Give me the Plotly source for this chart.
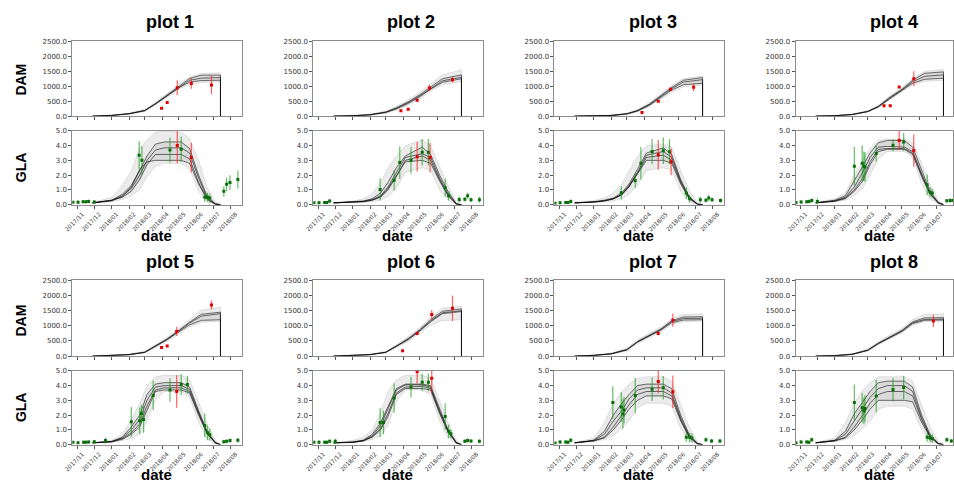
import plotly.graph_objects as go

W, H = 954, 484

# ---------------- axes / ticks ----------------
X_RANGE = ["2017-10-23", "2018-08-21"]
X_RANGE_CLIP = ["2017-10-23", "2018-07-31"]   # right column is cut by the image edge
TICK_DATES = ["2017-11-01", "2017-12-01", "2018-01-01", "2018-02-01", "2018-03-01",
              "2018-04-01", "2018-05-01", "2018-06-01", "2018-07-01", "2018-08-01"]
TICK_TEXT = ["2017/11", "2017/12", "2018/01", "2018/02", "2018/03",
             "2018/04", "2018/05", "2018/06", "2018/07", "2018/08"]
DAM_TICKS = [0, 500, 1000, 1500, 2000, 2500]
GLA_TICKS = [0, 1, 2, 3, 4, 5]

# ---------------- ensemble knot dates ----------------
DAM_KNOTS = ["2017-11-28", "2018-01-01", "2018-02-01", "2018-03-01", "2018-03-20", "2018-04-10",
             "2018-05-01", "2018-05-20", "2018-06-10", "2018-07-14", "2018-07-14"]
GLA_KNOTS = ["2017-11-28", "2018-01-01", "2018-01-20", "2018-02-05", "2018-02-20", "2018-03-05",
             "2018-03-20", "2018-04-05", "2018-05-05", "2018-05-20", "2018-06-05", "2018-06-20",
             "2018-07-05", "2018-07-14"]

# ---------------- plot 1 ----------------
DAM1_A = [0, 25, 80, 190, 420, 710, 1000, 1260, 1370, 1370, 0]
DAM1_B = [0, 25, 80, 185, 410, 690, 970, 1200, 1270, 1290, 0]
DAM1_C = [0, 22, 78, 180, 400, 680, 950, 1140, 1190, 1200, 0]
DAM1_LO = [0, 15, 60, 150, 360, 630, 900, 1070, 1120, 1140, 0]
DAM1_HI = [0, 35, 100, 230, 470, 760, 1050, 1320, 1430, 1450, 0]
GLA1_A = [0.12, 0.3, 0.7, 1.3, 2.3, 3.3, 4.1, 4.25, 4.25, 3.8, 2.0, 0.6, 0.05, 0]
GLA1_B = [0.12, 0.28, 0.6, 1.1, 2.0, 3.0, 3.7, 3.85, 3.85, 3.5, 1.8, 0.5, 0.04, 0]
GLA1_C = [0.12, 0.3, 0.5, 0.9, 1.7, 2.7, 3.4, 3.4, 3.4, 3.1, 1.5, 0.4, 0.03, 0]
GLA1_D = [0.12, 0.25, 0.55, 1.2, 2.4, 2.9, 3.0, 3.0, 3.0, 2.8, 1.4, 0.35, 0.02, 0]
GLA1_LO = [0.1, 0.2, 0.35, 0.6, 1.0, 1.9, 2.6, 2.8, 2.8, 2.4, 0.9, 0.2, 0.01, 0]
GLA1_HI = [0.14, 0.5, 1.3, 2.3, 3.8, 4.4, 4.9, 5.0, 4.9, 4.5, 3.0, 1.2, 0.2, 0]
OBS1_DAM_D = ["2018-03-31", "2018-04-10", "2018-04-28", "2018-05-23", "2018-06-28"]
OBS1_DAM_V = [265, 453, 951, 1095, 1040]
OBS1_DAM_E = [25, 40, 250, 180, 310]
OBS1_GLA_D = ["2017-10-24", "2017-11-02", "2017-11-11", "2017-11-16", "2017-11-21", "2017-12-01",
              "2018-02-19", "2018-02-24", "2018-04-15", "2018-05-05", "2018-06-16", "2018-06-21",
              "2018-06-25", "2018-07-20", "2018-07-25", "2018-07-31", "2018-08-14"]
OBS1_GLA_V = [0.16, 0.16, 0.2, 0.2, 0.22, 0.18, 3.35, 3.0, 3.7, 3.75, 0.5, 0.5, 0.45, 0.9, 1.38, 1.5, 1.7]
OBS1_GLA_E = [0.1, 0.12, 0.1, 0.1, 0.12, 0.12, 0.95, 0.95, 0.85, 0.85, 0.3, 0.3, 0.3, 0.35, 0.45, 0.5, 0.6]
OBS1_GLR_D = ["2018-04-28", "2018-05-23"]
OBS1_GLR_V = [4.0, 3.2]
OBS1_GLR_E = [1.2, 1.0]

# ---------------- plot 2 ----------------
DAM2_A = [0, 10, 50, 140, 280, 480, 720, 980, 1250, 1380, 0]
DAM2_B = [0, 10, 45, 130, 260, 450, 680, 930, 1180, 1300, 0]
DAM2_C = [0, 8, 40, 120, 240, 420, 650, 900, 1130, 1250, 0]
DAM2_LO = [0, 5, 30, 90, 200, 360, 580, 830, 1050, 1150, 0]
DAM2_HI = [0, 15, 65, 170, 330, 550, 800, 1080, 1380, 1550, 0]
GLA2_A = [0.12, 0.18, 0.25, 0.4, 0.8, 1.5, 2.5, 3.3, 3.9, 3.4, 2.0, 0.9, 0.05, 0]
GLA2_B = [0.12, 0.16, 0.22, 0.35, 0.6, 1.2, 2.2, 3.2, 3.45, 3.2, 1.8, 0.75, 0.04, 0]
GLA2_C = [0.12, 0.15, 0.2, 0.3, 0.5, 1.0, 1.9, 3.0, 3.3, 3.0, 1.7, 0.65, 0.03, 0]
GLA2_D = [0.12, 0.15, 0.2, 0.3, 0.55, 1.1, 2.0, 2.9, 3.0, 2.8, 1.6, 0.6, 0.03, 0]
GLA2_LO = [0.1, 0.12, 0.15, 0.2, 0.3, 0.55, 1.1, 2.2, 2.5, 2.3, 1.0, 0.3, 0.01, 0]
GLA2_HI = [0.14, 0.25, 0.4, 0.75, 1.5, 2.5, 3.3, 4.0, 4.4, 4.0, 2.6, 1.3, 0.15, 0]
OBS2_DAM_D = ["2018-03-28", "2018-04-10", "2018-04-26", "2018-05-18", "2018-06-28"]
OBS2_DAM_V = [177, 232, 531, 940, 1217]
OBS2_DAM_E = [20, 25, 30, 110, 90]
OBS2_GLA_D = ["2017-10-24", "2017-11-02", "2017-11-12", "2017-11-16", "2017-11-21", "2018-02-19",
              "2018-03-16", "2018-03-26", "2018-04-15", "2018-05-05", "2018-05-16", "2018-06-15",
              "2018-06-21", "2018-07-10", "2018-07-20", "2018-07-25", "2018-07-31", "2018-08-15"]
OBS2_GLA_V = [0.13, 0.13, 0.15, 0.15, 0.24, 1.03, 1.65, 2.85, 3.0, 3.55, 3.55, 1.15, 0.6, 0.35, 0.37, 0.6, 0.33, 0.33]
OBS2_GLA_E = [0.08, 0.1, 0.1, 0.1, 0.12, 0.75, 0.7, 1.1, 0.9, 0.9, 0.9, 0.6, 0.3, 0.2, 0.15, 0.2, 0.15, 0.2]
OBS2_GLR_D = ["2018-04-26", "2018-05-19"]
OBS2_GLR_V = [3.25, 3.2]
OBS2_GLR_E = [1.0, 1.0]

# ---------------- plot 3 ----------------
DAM3_A = [0, 5, 25, 80, 190, 400, 680, 960, 1200, 1290, 0]
DAM3_B = [0, 5, 22, 75, 180, 380, 650, 920, 1140, 1220, 0]
DAM3_C = [0, 4, 20, 70, 170, 360, 620, 870, 1050, 1100, 0]
DAM3_LO = [0, 2, 15, 55, 140, 320, 570, 800, 980, 1040, 0]
DAM3_HI = [0, 8, 35, 100, 230, 450, 740, 1030, 1260, 1340, 0]
GLA3_A = [0.12, 0.2, 0.3, 0.45, 0.8, 1.4, 2.4, 3.5, 3.85, 3.4, 1.7, 0.55, 0.04, 0]
GLA3_B = [0.12, 0.18, 0.27, 0.4, 0.7, 1.3, 2.2, 3.35, 3.6, 3.2, 1.6, 0.5, 0.03, 0]
GLA3_C = [0.12, 0.17, 0.25, 0.38, 0.65, 1.2, 2.1, 3.2, 3.35, 3.0, 1.5, 0.45, 0.03, 0]
GLA3_D = [0.12, 0.17, 0.25, 0.4, 0.7, 1.25, 2.1, 3.0, 3.0, 2.8, 1.4, 0.4, 0.02, 0]
GLA3_LO = [0.1, 0.13, 0.18, 0.25, 0.4, 0.7, 1.3, 2.3, 2.5, 2.3, 0.9, 0.2, 0.01, 0]
GLA3_HI = [0.14, 0.28, 0.45, 0.8, 1.4, 2.3, 3.3, 4.0, 4.1, 3.9, 2.3, 1.0, 0.12, 0]
OBS3_DAM_D = ["2018-03-28", "2018-04-26", "2018-05-18", "2018-06-28"]
OBS3_DAM_V = [122, 498, 896, 962]
OBS3_DAM_E = [20, 30, 60, 130]
OBS3_GLA_D = ["2017-10-24", "2017-11-02", "2017-11-12", "2017-11-16", "2017-11-21", "2018-02-19",
              "2018-03-16", "2018-03-26", "2018-04-15", "2018-05-05", "2018-05-16", "2018-06-15",
              "2018-06-21", "2018-07-10", "2018-07-20", "2018-07-25", "2018-07-31", "2018-08-15"]
OBS3_GLA_V = [0.1, 0.13, 0.15, 0.15, 0.22, 0.8, 1.62, 2.8, 3.6, 3.65, 3.58, 0.78, 0.4, 0.33, 0.3, 0.45, 0.33, 0.28]
OBS3_GLA_E = [0.08, 0.1, 0.1, 0.1, 0.15, 0.45, 0.5, 1.1, 0.85, 0.9, 0.85, 0.4, 0.25, 0.2, 0.15, 0.2, 0.15, 0.15]
OBS3_GLR_D = ["2018-04-26", "2018-05-19"]
OBS3_GLR_V = [3.38, 2.9]
OBS3_GLR_E = [1.0, 0.9]

# ---------------- plot 4 ----------------
DAM4_A = [0, 15, 55, 160, 330, 640, 900, 1200, 1430, 1480, 0]
DAM4_B = [0, 15, 55, 155, 320, 620, 880, 1150, 1330, 1380, 0]
DAM4_C = [0, 12, 50, 150, 310, 600, 860, 1100, 1230, 1270, 0]
DAM4_LO = [0, 8, 40, 130, 280, 560, 820, 1040, 1160, 1200, 0]
DAM4_HI = [0, 20, 70, 185, 370, 690, 960, 1260, 1500, 1560, 0]
GLA4_A = [0.12, 0.3, 0.6, 1.6, 2.6, 3.5, 4.2, 4.35, 4.35, 3.9, 2.3, 0.9, 0.15, 0]
GLA4_B = [0.12, 0.25, 0.5, 1.2, 2.2, 3.2, 3.9, 3.95, 3.9, 3.6, 2.1, 0.8, 0.12, 0]
GLA4_C = [0.12, 0.25, 0.45, 1.0, 1.8, 2.9, 3.75, 3.8, 3.8, 3.5, 2.0, 0.75, 0.1, 0]
GLA4_D = [0.12, 0.22, 0.4, 0.9, 1.6, 2.7, 3.6, 3.75, 3.75, 3.4, 1.9, 0.7, 0.1, 0]
GLA4_LO = [0.1, 0.18, 0.3, 0.6, 1.1, 2.0, 3.1, 3.6, 3.6, 3.2, 1.4, 0.4, 0.03, 0]
GLA4_HI = [0.14, 0.4, 0.8, 2.0, 3.0, 3.8, 4.35, 4.45, 4.45, 4.2, 2.8, 1.4, 0.3, 0]
OBS4_DAM_D = ["2018-03-30", "2018-04-10", "2018-04-26", "2018-05-22"]
OBS4_DAM_V = [343, 343, 973, 1250]
OBS4_DAM_E = [40, 40, 30, 250]
OBS4_GLA_D = ["2017-10-24", "2017-11-02", "2017-11-12", "2017-11-16", "2017-11-21", "2017-12-01",
              "2018-02-05", "2018-02-19", "2018-02-22", "2018-02-24", "2018-03-16", "2018-04-15",
              "2018-05-04", "2018-06-15", "2018-06-20", "2018-06-24", "2018-07-20", "2018-07-26", "2018-07-31"]
OBS4_GLA_V = [0.15, 0.18, 0.2, 0.22, 0.28, 0.22, 2.6, 2.8, 2.6, 2.55, 3.47, 4.02, 4.25, 1.35, 0.85, 0.78, 0.27, 0.28, 0.28]
OBS4_GLA_E = [0.08, 0.12, 0.1, 0.12, 0.15, 0.2, 1.3, 1.2, 1.0, 1.0, 0.55, 0.4, 0.6, 0.7, 0.35, 0.3, 0.12, 0.15, 0.12]
OBS4_GLR_D = ["2018-04-26", "2018-05-22"]
OBS4_GLR_V = [4.35, 3.67]
OBS4_GLR_E = [0.65, 1.1]

# ---------------- plot 5 ----------------
DAM5_A = [0, 15, 50, 130, 330, 570, 850, 1120, 1380, 1450, 0]
DAM5_B = [0, 15, 50, 125, 320, 555, 830, 1090, 1320, 1400, 0]
DAM5_C = [0, 12, 45, 120, 310, 540, 800, 1030, 1180, 1200, 0]
DAM5_LO = [0, 8, 35, 100, 270, 490, 750, 960, 1110, 1150, 0]
DAM5_HI = [0, 20, 65, 160, 380, 620, 920, 1220, 1520, 1620, 0]
GLA5_A = [0.12, 0.22, 0.5, 1.2, 2.0, 3.4, 4.1, 4.2, 4.2, 3.9, 2.3, 0.9, 0.15, 0]
GLA5_B = [0.12, 0.2, 0.45, 1.0, 1.7, 3.0, 3.9, 4.0, 4.0, 3.75, 2.2, 0.85, 0.12, 0]
GLA5_C = [0.12, 0.2, 0.4, 0.8, 1.4, 2.6, 3.7, 3.85, 3.85, 3.6, 2.1, 0.8, 0.1, 0]
GLA5_D = [0.12, 0.18, 0.35, 0.7, 1.2, 2.3, 3.6, 3.7, 3.7, 3.5, 2.0, 0.75, 0.1, 0]
GLA5_LO = [0.1, 0.15, 0.28, 0.4, 0.7, 1.6, 3.0, 3.6, 3.6, 3.2, 1.5, 0.4, 0.03, 0]
GLA5_HI = [0.14, 0.3, 0.7, 1.7, 2.8, 4.0, 4.6, 4.7, 4.7, 4.4, 2.9, 1.4, 0.3, 0]
OBS5_DAM_D = ["2018-03-31", "2018-04-10", "2018-04-27", "2018-06-28"]
OBS5_DAM_V = [283, 337, 815, 1685]
OBS5_DAM_E = [25, 40, 150, 150]
OBS5_GLA_D = ["2017-10-24", "2017-11-02", "2017-11-12", "2017-11-16", "2017-11-21", "2017-12-01",
              "2017-12-21", "2018-02-05", "2018-02-20", "2018-02-23", "2018-02-27", "2018-03-16",
              "2018-04-15", "2018-05-05", "2018-05-16", "2018-06-16", "2018-06-21", "2018-06-25",
              "2018-07-20", "2018-07-25", "2018-07-31", "2018-08-14"]
OBS5_GLA_V = [0.16, 0.13, 0.16, 0.16, 0.18, 0.2, 0.27, 1.55, 1.62, 2.1, 1.7, 3.33,
              3.7, 4.07, 4.07, 1.3, 0.8, 0.67, 0.2, 0.22, 0.27, 0.3]
OBS5_GLA_E = [0.08, 0.1, 0.1, 0.1, 0.1, 0.12, 0.2, 1.0, 0.9, 0.6, 0.9, 1.0,
              0.8, 0.7, 0.6, 0.8, 0.5, 0.4, 0.12, 0.12, 0.15, 0.15]
OBS5_GLR_D = ["2018-04-27"]
OBS5_GLR_V = [3.6]
OBS5_GLR_E = [1.1]

# ---------------- plot 6 ----------------
DAM6_A = [0, 15, 50, 130, 330, 580, 880, 1200, 1480, 1560, 0]
DAM6_B = [0, 15, 50, 125, 320, 560, 850, 1160, 1430, 1500, 0]
DAM6_C = [0, 12, 45, 120, 310, 540, 830, 1130, 1400, 1470, 0]
DAM6_LO = [0, 8, 35, 100, 270, 480, 760, 1020, 1170, 1200, 0]
DAM6_HI = [0, 20, 65, 160, 380, 640, 950, 1290, 1580, 1650, 0]
GLA6_A = [0.12, 0.18, 0.3, 0.7, 1.5, 2.6, 3.8, 4.1, 4.1, 4.0, 2.4, 1.0, 0.15, 0]
GLA6_B = [0.12, 0.16, 0.28, 0.6, 1.3, 2.4, 3.7, 4.05, 4.05, 3.9, 2.3, 0.95, 0.12, 0]
GLA6_C = [0.12, 0.16, 0.25, 0.55, 1.1, 2.1, 3.5, 3.9, 3.95, 3.8, 2.2, 0.9, 0.1, 0]
GLA6_D = [0.12, 0.15, 0.25, 0.5, 1.0, 1.9, 3.4, 3.8, 3.8, 3.7, 2.1, 0.85, 0.1, 0]
GLA6_LO = [0.1, 0.12, 0.2, 0.35, 0.6, 1.3, 2.9, 3.7, 3.7, 3.4, 1.6, 0.45, 0.03, 0]
GLA6_HI = [0.14, 0.28, 0.5, 1.0, 2.2, 3.6, 4.4, 4.7, 4.7, 4.5, 3.0, 1.5, 0.3, 0]
OBS6_DAM_D = ["2018-03-31", "2018-04-26", "2018-05-22", "2018-06-28"]
OBS6_DAM_V = [175, 746, 1370, 1580]
OBS6_DAM_E = [20, 50, 150, 420]
OBS6_GLA_D = ["2017-10-24", "2017-11-02", "2017-11-12", "2017-11-16", "2017-11-21", "2017-12-01",
              "2018-02-19", "2018-02-25", "2018-03-16", "2018-04-15", "2018-05-05", "2018-05-16",
              "2018-06-15", "2018-06-21", "2018-06-25", "2018-07-20", "2018-07-25", "2018-07-31", "2018-08-15"]
OBS6_GLA_V = [0.16, 0.16, 0.16, 0.16, 0.22, 0.22, 1.5, 1.5, 3.15, 3.9, 4.22, 4.22, 1.9, 0.9, 0.73, 0.22, 0.27, 0.25, 0.22]
OBS6_GLA_E = [0.1, 0.12, 0.1, 0.1, 0.12, 0.18, 1.0, 0.8, 1.0, 0.7, 0.6, 0.6, 0.9, 0.45, 0.3, 0.12, 0.15, 0.12, 0.12]
OBS6_GLR_D = ["2018-04-26", "2018-05-22"]
OBS6_GLR_V = [4.93, 4.5]
OBS6_GLR_E = [0.8, 1.0]

# ---------------- plot 7 ----------------
DAM7_A = [0, 25, 80, 220, 480, 690, 900, 1170, 1290, 1300, 0]
DAM7_B = [0, 25, 75, 210, 470, 680, 880, 1140, 1240, 1250, 0]
DAM7_C = [0, 22, 70, 200, 460, 660, 860, 1100, 1190, 1200, 0]
DAM7_LO = [0, 15, 55, 170, 410, 610, 800, 1040, 1130, 1150, 0]
DAM7_HI = [0, 35, 95, 270, 540, 760, 970, 1230, 1370, 1400, 0]
GLA7_A = [0.12, 0.3, 0.9, 2.0, 2.8, 3.4, 4.0, 4.1, 4.1, 3.8, 2.0, 0.7, 0.08, 0]
GLA7_B = [0.12, 0.28, 0.7, 1.6, 2.3, 3.1, 3.7, 3.85, 3.85, 3.5, 1.8, 0.6, 0.06, 0]
GLA7_C = [0.12, 0.25, 0.5, 1.2, 2.0, 2.7, 3.4, 3.6, 3.6, 3.3, 1.7, 0.55, 0.05, 0]
GLA7_D = [0.12, 0.25, 0.45, 1.0, 1.7, 2.4, 3.0, 3.3, 3.3, 3.1, 1.6, 0.5, 0.04, 0]
GLA7_LO = [0.1, 0.2, 0.35, 0.6, 1.1, 1.6, 2.5, 2.8, 2.8, 2.6, 1.1, 0.25, 0.01, 0]
GLA7_HI = [0.14, 0.45, 1.5, 2.8, 3.6, 4.1, 4.5, 4.6, 4.6, 4.3, 2.7, 1.2, 0.2, 0]
OBS7_DAM_D = ["2018-04-26", "2018-05-22"]
OBS7_DAM_V = [746, 1185]
OBS7_DAM_E = [60, 220]
OBS7_GLA_D = ["2017-10-24", "2017-11-02", "2017-11-12", "2017-11-16", "2017-11-21", "2018-02-04",
              "2018-02-19", "2018-02-22", "2018-02-24", "2018-03-16", "2018-04-15", "2018-05-05",
              "2018-06-15", "2018-06-21", "2018-06-25", "2018-07-20", "2018-07-30", "2018-08-14"]
OBS7_GLA_V = [0.1, 0.18, 0.18, 0.16, 0.3, 2.85, 2.55, 2.07, 2.35, 3.33, 3.75, 3.85, 0.5, 0.5, 0.45, 0.33, 0.25, 0.25]
OBS7_GLA_E = [0.08, 0.12, 0.1, 0.1, 0.15, 1.1, 1.0, 1.0, 0.9, 1.2, 0.8, 0.8, 0.3, 0.3, 0.3, 0.15, 0.15, 0.15]
OBS7_GLR_D = ["2018-04-26", "2018-05-22"]
OBS7_GLR_V = [4.28, 3.58]
OBS7_GLR_E = [0.8, 1.1]

# ---------------- plot 8 ----------------
DAM8_A = [0, 15, 60, 200, 430, 640, 850, 1130, 1260, 1270, 0]
DAM8_B = [0, 15, 60, 195, 420, 630, 830, 1100, 1210, 1220, 0]
DAM8_C = [0, 12, 55, 185, 410, 610, 810, 1070, 1180, 1190, 0]
DAM8_LO = [0, 8, 45, 160, 370, 570, 770, 1020, 1130, 1150, 0]
DAM8_HI = [0, 25, 80, 240, 480, 700, 920, 1210, 1370, 1400, 0]
GLA8_A = [0.12, 0.3, 0.9, 2.1, 2.9, 3.6, 4.2, 4.3, 4.3, 3.9, 2.0, 0.7, 0.08, 0]
GLA8_B = [0.12, 0.28, 0.7, 1.6, 2.4, 3.2, 3.8, 4.0, 4.0, 3.6, 1.8, 0.6, 0.06, 0]
GLA8_C = [0.12, 0.25, 0.5, 1.2, 2.0, 2.8, 3.4, 3.6, 3.6, 3.3, 1.7, 0.55, 0.05, 0]
GLA8_D = [0.12, 0.25, 0.45, 1.0, 1.7, 2.4, 3.0, 3.0, 3.0, 2.9, 1.5, 0.5, 0.04, 0]
GLA8_LO = [0.1, 0.2, 0.35, 0.6, 1.1, 1.6, 2.4, 2.6, 2.6, 2.4, 1.0, 0.25, 0.01, 0]
GLA8_HI = [0.14, 0.45, 1.5, 2.8, 3.7, 4.2, 4.6, 4.6, 4.6, 4.3, 2.7, 1.2, 0.2, 0]
OBS8_DAM_D = ["2018-06-26"]
OBS8_DAM_V = [1162]
OBS8_DAM_E = [200]
OBS8_GLA_D = ["2017-10-24", "2017-11-02", "2017-11-12", "2017-11-16", "2017-11-21", "2018-02-05",
              "2018-02-19", "2018-02-22", "2018-02-24", "2018-03-16", "2018-04-15", "2018-05-04",
              "2018-06-15", "2018-06-20", "2018-06-24", "2018-07-20", "2018-07-28"]
OBS8_GLA_V = [0.1, 0.18, 0.18, 0.16, 0.33, 2.85, 2.5, 2.3, 2.45, 3.3, 3.73, 3.87, 0.5, 0.45, 0.4, 0.33, 0.25]
OBS8_GLA_E = [0.08, 0.12, 0.1, 0.1, 0.15, 1.2, 1.0, 0.9, 0.9, 1.1, 0.8, 0.8, 0.3, 0.3, 0.3, 0.15, 0.15]
OBS8_GLR_D = []
OBS8_GLR_V = []
OBS8_GLR_E = []

PLOTS = [
    dict(title="plot 1", dam=[DAM1_A, DAM1_B, DAM1_C], dlo=DAM1_LO, dhi=DAM1_HI,
         gla=[GLA1_A, GLA1_B, GLA1_C, GLA1_D], glo=GLA1_LO, ghi=GLA1_HI,
         od=(OBS1_DAM_D, OBS1_DAM_V, OBS1_DAM_E), og=(OBS1_GLA_D, OBS1_GLA_V, OBS1_GLA_E),
         orr=(OBS1_GLR_D, OBS1_GLR_V, OBS1_GLR_E)),
    dict(title="plot 2", dam=[DAM2_A, DAM2_B, DAM2_C], dlo=DAM2_LO, dhi=DAM2_HI,
         gla=[GLA2_A, GLA2_B, GLA2_C, GLA2_D], glo=GLA2_LO, ghi=GLA2_HI,
         od=(OBS2_DAM_D, OBS2_DAM_V, OBS2_DAM_E), og=(OBS2_GLA_D, OBS2_GLA_V, OBS2_GLA_E),
         orr=(OBS2_GLR_D, OBS2_GLR_V, OBS2_GLR_E)),
    dict(title="plot 3", dam=[DAM3_A, DAM3_B, DAM3_C], dlo=DAM3_LO, dhi=DAM3_HI,
         gla=[GLA3_A, GLA3_B, GLA3_C, GLA3_D], glo=GLA3_LO, ghi=GLA3_HI,
         od=(OBS3_DAM_D, OBS3_DAM_V, OBS3_DAM_E), og=(OBS3_GLA_D, OBS3_GLA_V, OBS3_GLA_E),
         orr=(OBS3_GLR_D, OBS3_GLR_V, OBS3_GLR_E)),
    dict(title="plot 4", dam=[DAM4_A, DAM4_B, DAM4_C], dlo=DAM4_LO, dhi=DAM4_HI,
         gla=[GLA4_A, GLA4_B, GLA4_C, GLA4_D], glo=GLA4_LO, ghi=GLA4_HI,
         od=(OBS4_DAM_D, OBS4_DAM_V, OBS4_DAM_E), og=(OBS4_GLA_D, OBS4_GLA_V, OBS4_GLA_E),
         orr=(OBS4_GLR_D, OBS4_GLR_V, OBS4_GLR_E)),
    dict(title="plot 5", dam=[DAM5_A, DAM5_B, DAM5_C], dlo=DAM5_LO, dhi=DAM5_HI,
         gla=[GLA5_A, GLA5_B, GLA5_C, GLA5_D], glo=GLA5_LO, ghi=GLA5_HI,
         od=(OBS5_DAM_D, OBS5_DAM_V, OBS5_DAM_E), og=(OBS5_GLA_D, OBS5_GLA_V, OBS5_GLA_E),
         orr=(OBS5_GLR_D, OBS5_GLR_V, OBS5_GLR_E)),
    dict(title="plot 6", dam=[DAM6_A, DAM6_B, DAM6_C], dlo=DAM6_LO, dhi=DAM6_HI,
         gla=[GLA6_A, GLA6_B, GLA6_C, GLA6_D], glo=GLA6_LO, ghi=GLA6_HI,
         od=(OBS6_DAM_D, OBS6_DAM_V, OBS6_DAM_E), og=(OBS6_GLA_D, OBS6_GLA_V, OBS6_GLA_E),
         orr=(OBS6_GLR_D, OBS6_GLR_V, OBS6_GLR_E)),
    dict(title="plot 7", dam=[DAM7_A, DAM7_B, DAM7_C], dlo=DAM7_LO, dhi=DAM7_HI,
         gla=[GLA7_A, GLA7_B, GLA7_C, GLA7_D], glo=GLA7_LO, ghi=GLA7_HI,
         od=(OBS7_DAM_D, OBS7_DAM_V, OBS7_DAM_E), og=(OBS7_GLA_D, OBS7_GLA_V, OBS7_GLA_E),
         orr=(OBS7_GLR_D, OBS7_GLR_V, OBS7_GLR_E)),
    dict(title="plot 8", dam=[DAM8_A, DAM8_B, DAM8_C], dlo=DAM8_LO, dhi=DAM8_HI,
         gla=[GLA8_A, GLA8_B, GLA8_C, GLA8_D], glo=GLA8_LO, ghi=GLA8_HI,
         od=(OBS8_DAM_D, OBS8_DAM_V, OBS8_DAM_E), og=(OBS8_GLA_D, OBS8_GLA_V, OBS8_GLA_E),
         orr=(OBS8_GLR_D, OBS8_GLR_V, OBS8_GLR_E)),
]

# ---------------- layout geometry (pixels) ----------------
COL_LEFT = [65, 308.3, 551.7, 795]
AX_W = 171
ROW_DAM = [(38, 114), (281, 358)]
ROW_GLA = [(129, 204), (373, 448)]
TITLE_Y = [18, 262]
DATE_Y = [235, 478]
LABEL_X = 13
LABEL_DAM_Y = [77, 322]
LABEL_GLA_Y = [166, 410]

BAND = "rgba(0,0,0,0.08)"
CORE = "rgba(0,0,0,0.07)"
MEMBER = "rgba(0,0,0,0.62)"
EDGE = "rgba(0,0,0,0.16)"
GREEN_BAR = "rgba(20,150,20,0.65)"
GREEN_PT = "#0a6e0a"
RED_BAR = "rgba(255,30,30,0.7)"
RED_PT = "#e00000"

fig = go.Figure()
layout = dict(width=W, height=H, margin=dict(l=0, r=0, t=0, b=0),
              paper_bgcolor="white", plot_bgcolor="white", showlegend=False)
annotations = []


def sfx(n):
    return "" if n == 1 else str(n)


def add_band(xs, lo, hi, xa, ya):
    fig.add_trace(go.Scatter(x=xs, y=lo, mode="lines", line=dict(color=EDGE, width=0.6),
                             xaxis=xa, yaxis=ya, hoverinfo="skip"))
    fig.add_trace(go.Scatter(x=xs, y=hi, mode="lines", line=dict(color=EDGE, width=0.6),
                             fill="tonexty", fillcolor=BAND, xaxis=xa, yaxis=ya, hoverinfo="skip"))


def add_members(xs, members, xa, ya):
    for k, m in enumerate(members):
        fig.add_trace(go.Scatter(x=xs, y=m, mode="lines", line=dict(color=MEMBER, width=0.9),
                                 fill=None if k == 0 else "tonexty", fillcolor=CORE,
                                 xaxis=xa, yaxis=ya, hoverinfo="skip"))


def add_obs(obs, bar, pt, xa, ya):
    d, v, e = obs
    if not d:
        return
    fig.add_trace(go.Scatter(x=d, y=v, mode="markers",
                             marker=dict(symbol="square", size=3, color=pt),
                             error_y=dict(type="data", array=e, color=bar, thickness=1.2, width=0),
                             xaxis=xa, yaxis=ya))


for i, P in enumerate(PLOTS):
    r, c = divmod(i, 4)
    nd, ng = 2 * i + 1, 2 * i + 2
    left = COL_LEFT[c]
    right = min(left + AX_W, W)
    xr = X_RANGE if left + AX_W <= W else X_RANGE_CLIP
    xdom = [left / W, right / W]

    for n, (top, bot), is_gla in ((nd, ROW_DAM[r], False), (ng, ROW_GLA[r], True)):
        layout["xaxis" + sfx(n)] = dict(
            domain=xdom, range=xr, type="date", anchor="y" + sfx(n),
            tickmode="array", tickvals=TICK_DATES, ticktext=TICK_TEXT,
            showticklabels=is_gla, tickangle=-45, ticklabelshift=5,
            tickfont=dict(family="DejaVu Sans", size=5.8, color="#333"),
            ticks="outside", ticklen=3, tickcolor="#555", tickwidth=0.8,
            showline=True, linecolor="#8c8c8c", linewidth=1, mirror=True,
            showgrid=False, zeroline=False)
        layout["yaxis" + sfx(n)] = dict(
            domain=[1 - bot / H, 1 - top / H], anchor="x" + sfx(n),
            range=[0, 5] if is_gla else [0, 2500],
            tickmode="array", tickvals=GLA_TICKS if is_gla else DAM_TICKS, tickformat=".1f",
            tickfont=dict(family="DejaVu Sans", size=7, color="#333"),
            ticks="outside", ticklen=3, tickcolor="#555", tickwidth=0.8,
            showline=True, linecolor="#8c8c8c", linewidth=1, mirror=True,
            showgrid=False, zeroline=False)

    xa_d, ya_d = "x" + sfx(nd), "y" + sfx(nd)
    xa_g, ya_g = "x" + sfx(ng), "y" + sfx(ng)

    # DAM ensemble
    add_band(DAM_KNOTS, P["dlo"], P["dhi"], xa_d, ya_d)
    add_members(DAM_KNOTS, P["dam"], xa_d, ya_d)
    add_obs(P["od"], RED_BAR, RED_PT, xa_d, ya_d)

    # GLA ensemble
    add_band(GLA_KNOTS, P["glo"], P["ghi"], xa_g, ya_g)
    add_members(GLA_KNOTS, P["gla"], xa_g, ya_g)
    add_obs(P["og"], GREEN_BAR, GREEN_PT, xa_g, ya_g)
    add_obs(P["orr"], RED_BAR, RED_PT, xa_g, ya_g)

    # texts
    annotations.append(dict(x=(left + 99) / W, y=1 - TITLE_Y[r] / H, xref="paper", yref="paper",
                            text="<b>%s</b>" % P["title"], showarrow=False,
                            font=dict(family="Liberation Sans", size=18, color="black"),
                            xanchor="center", yanchor="middle"))
    annotations.append(dict(x=(left + 85) / W, y=1 - DATE_Y[r] / H, xref="paper", yref="paper",
                            text="<b>date</b>", showarrow=False,
                            font=dict(family="Liberation Sans", size=15, color="black"),
                            xanchor="center", yanchor="middle"))
    if c == 0:
        for lab, yy in (("DAM", LABEL_DAM_Y[r]), ("GLA", LABEL_GLA_Y[r])):
            annotations.append(dict(x=LABEL_X / W, y=1 - yy / H, xref="paper", yref="paper",
                                    text="<b>%s</b>" % lab, showarrow=False, textangle=-90,
                                    font=dict(family="Liberation Sans", size=14, color="black"),
                                    xanchor="center", yanchor="middle"))

layout["annotations"] = annotations
fig.update_layout(**layout)
fig.write_html("out.html", config={"displayModeBar": False},
               post_script="document.body.style.margin='0px';")
